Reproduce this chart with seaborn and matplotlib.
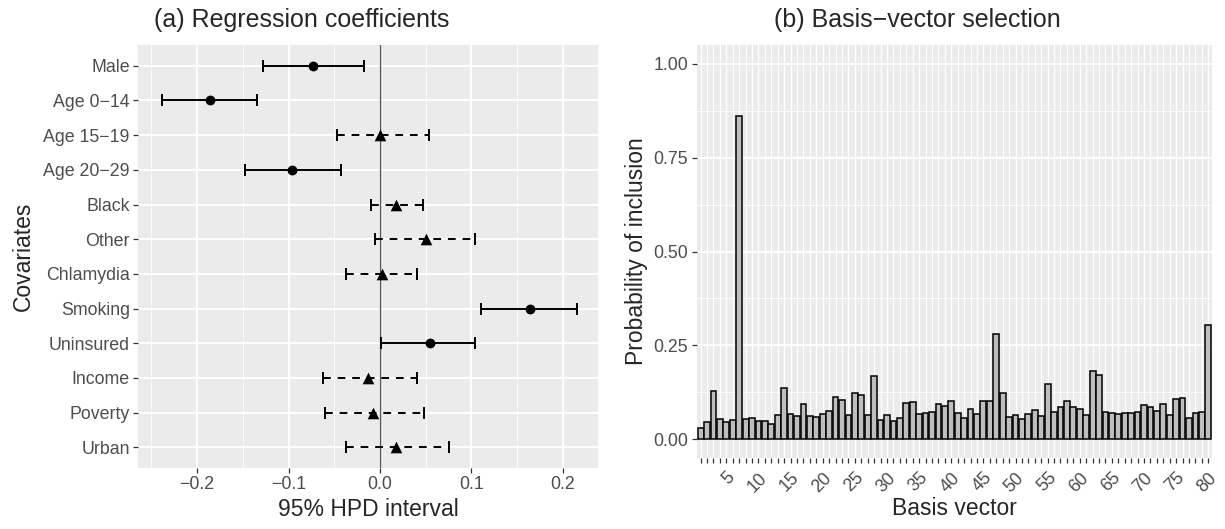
import matplotlib

matplotlib.use("Agg")
import matplotlib.pyplot as plt
import numpy as np
import pandas as pd
import seaborn as sns
from matplotlib.ticker import MultipleLocator

# (a) regression coefficients: posterior mean and 95% HPD interval
covariates = [
    "Male", "Age 0\u221214", "Age 15\u221219", "Age 20\u221229", "Black", "Other",
    "Chlamydia", "Smoking", "Uninsured", "Income", "Poverty", "Urban",
]
coef_mean = [-0.073, -0.186, 0.000, -0.096, 0.018, 0.050,
             0.002, 0.164, 0.055, -0.013, -0.008, 0.017]
hpd_lower = [-0.128, -0.239, -0.047, -0.148, -0.010, -0.005,
             -0.037, 0.111, 0.001, -0.062, -0.060, -0.037]
hpd_upper = [-0.017, -0.135, 0.054, -0.043, 0.047, 0.104,
             0.040, 0.215, 0.104, 0.040, 0.048, 0.075]
x_ticks_a = [-0.2, -0.1, 0.0, 0.1, 0.2]

# (b) posterior probability of inclusion for each basis vector
basis_prob = [
    0.031, 0.046, 0.128, 0.055, 0.045, 0.051, 0.860, 0.053, 0.057, 0.049,
    0.048, 0.041, 0.064, 0.137, 0.067, 0.063, 0.093, 0.063, 0.060, 0.066,
    0.076, 0.112, 0.104, 0.065, 0.123, 0.117, 0.065, 0.169, 0.052, 0.064,
    0.049, 0.057, 0.097, 0.100, 0.066, 0.069, 0.073, 0.095, 0.089, 0.102,
    0.069, 0.056, 0.080, 0.067, 0.102, 0.102, 0.279, 0.123, 0.059, 0.064,
    0.054, 0.066, 0.078, 0.062, 0.148, 0.072, 0.085, 0.102, 0.085, 0.081,
    0.064, 0.182, 0.171, 0.073, 0.070, 0.068, 0.070, 0.070, 0.072, 0.092,
    0.085, 0.075, 0.094, 0.065, 0.106, 0.111, 0.057, 0.069, 0.073, 0.303,
]
y_ticks_b = [0.0, 0.25, 0.5, 0.75, 1.0]

TICK_SIZE = 12.8
LABEL_SIZE = 16.5
TITLE_SIZE = 18

sns.set_theme(
    style="darkgrid",
    rc={
        "axes.facecolor": "#EBEBEB",
        "grid.color": "white",
        "xtick.bottom": True,
        "ytick.left": True,
        "xtick.color": "#333333",
        "ytick.color": "#333333",
        "xtick.labelcolor": "#4D4D4D",
        "ytick.labelcolor": "#4D4D4D",
        "xtick.major.size": 3.6,
        "ytick.major.size": 3.6,
        "xtick.major.width": 0.9,
        "ytick.major.width": 0.9,
        "xtick.major.pad": 2.5,
        "ytick.major.pad": 2.5,
    },
)
plt.rcParams["font.family"] = ["Liberation Sans", "DejaVu Sans"]

fig = plt.figure(figsize=(12.25, 5.29), dpi=100)
ax1 = fig.add_axes([0.1129, 0.1153, 0.3753, 0.7996])
ax2 = fig.add_axes([0.5688, 0.1342, 0.4207, 0.7807])

# ---- panel (a)
df_coef = pd.DataFrame({
    "covariate": covariates,
    "pos": np.arange(len(covariates)),
    "mean": coef_mean,
    "lower": hpd_lower,
    "upper": hpd_upper,
})
df_coef["credible"] = (df_coef["lower"] > 0) | (df_coef["upper"] < 0)

ax1.axvline(0, color="#5A5A5A", lw=1.0, zorder=1.5)
for credible, ls in [(True, "-"), (False, (0, (4, 3.5)))]:
    sub = df_coef[df_coef["credible"] == credible]
    eb = ax1.errorbar(
        sub["mean"], sub["pos"],
        xerr=[sub["mean"] - sub["lower"], sub["upper"] - sub["mean"]],
        fmt="none", ecolor="black", elinewidth=1.4, capsize=4.5, capthick=1.4,
        zorder=2,
    )
    eb[2][0].set_linestyle(ls)

for credible, marker, size in [(True, "o", 50), (False, "^", 70)]:
    sns.scatterplot(
        data=df_coef[df_coef["credible"] == credible], x="mean", y="pos",
        marker=marker, color="black", s=size, linewidth=0, legend=False,
        zorder=3, ax=ax1,
    )

ax1.set_xlim(-0.2644, 0.2385)
ax1.set_ylim(len(covariates) - 0.4, -0.6)
ax1.set_xticks(x_ticks_a)
ax1.set_xticklabels([f"{t:.1f}".replace("-", "\u2212") for t in x_ticks_a])
ax1.xaxis.set_minor_locator(MultipleLocator(0.05))
ax1.set_yticks(df_coef["pos"])
ax1.set_yticklabels(covariates)
ax1.grid(which="major", color="white", lw=1.3)
ax1.grid(which="minor", axis="x", color="white", lw=0.6)
ax1.tick_params(which="minor", length=0)
ax1.tick_params(labelsize=TICK_SIZE)
ax1.set_xlabel("95% HPD interval", fontsize=LABEL_SIZE, labelpad=3)
ax1.set_ylabel("Covariates", fontsize=LABEL_SIZE, labelpad=6)

# ---- panel (b)
df_basis = pd.DataFrame({
    "basis": [str(i + 1) for i in range(len(basis_prob))],
    "prob": basis_prob,
})
sns.barplot(
    data=df_basis, x="basis", y="prob", color="#BEBEBE", saturation=1,
    edgecolor="black", linewidth=1.1, width=0.9, ax=ax2, zorder=2,
)
ax2.set_xlim(-0.6, len(basis_prob) - 0.4)
ax2.set_ylim(-0.05, 1.05)
ax2.set_yticks(y_ticks_b)
ax2.set_yticklabels([f"{t:.2f}" for t in y_ticks_b])
ax2.yaxis.set_minor_locator(MultipleLocator(0.125))
ax2.set_xticks(range(len(basis_prob)))
ax2.set_xticklabels([b if int(b) % 5 == 0 else "" for b in df_basis["basis"]],
                    rotation=45, ha="right", va="top", rotation_mode="anchor")
ax2.grid(which="major", axis="x", color="white", lw=0.9)
ax2.grid(which="major", axis="y", color="white", lw=1.3)
ax2.grid(which="minor", axis="y", color="white", lw=0.6)
ax2.tick_params(which="minor", length=0)
ax2.tick_params(labelsize=TICK_SIZE)
ax2.tick_params(axis="x", pad=4.5)
ax2.set_xlabel("Basis vector", fontsize=LABEL_SIZE, labelpad=1)
ax2.set_ylabel("Probability of inclusion", fontsize=LABEL_SIZE, labelpad=4)

for ax in (ax1, ax2):
    for spine in ax.spines.values():
        spine.set_visible(False)
    ax.set_axisbelow(True)

fig.text(0.2465, 0.949, "(a) Regression coefficients", fontsize=TITLE_SIZE,
         ha="center", va="baseline")
fig.text(0.7486, 0.949, "(b) Basis\u2212vector selection", fontsize=TITLE_SIZE,
         ha="center", va="baseline")

fig.savefig("out.png", dpi=100)
